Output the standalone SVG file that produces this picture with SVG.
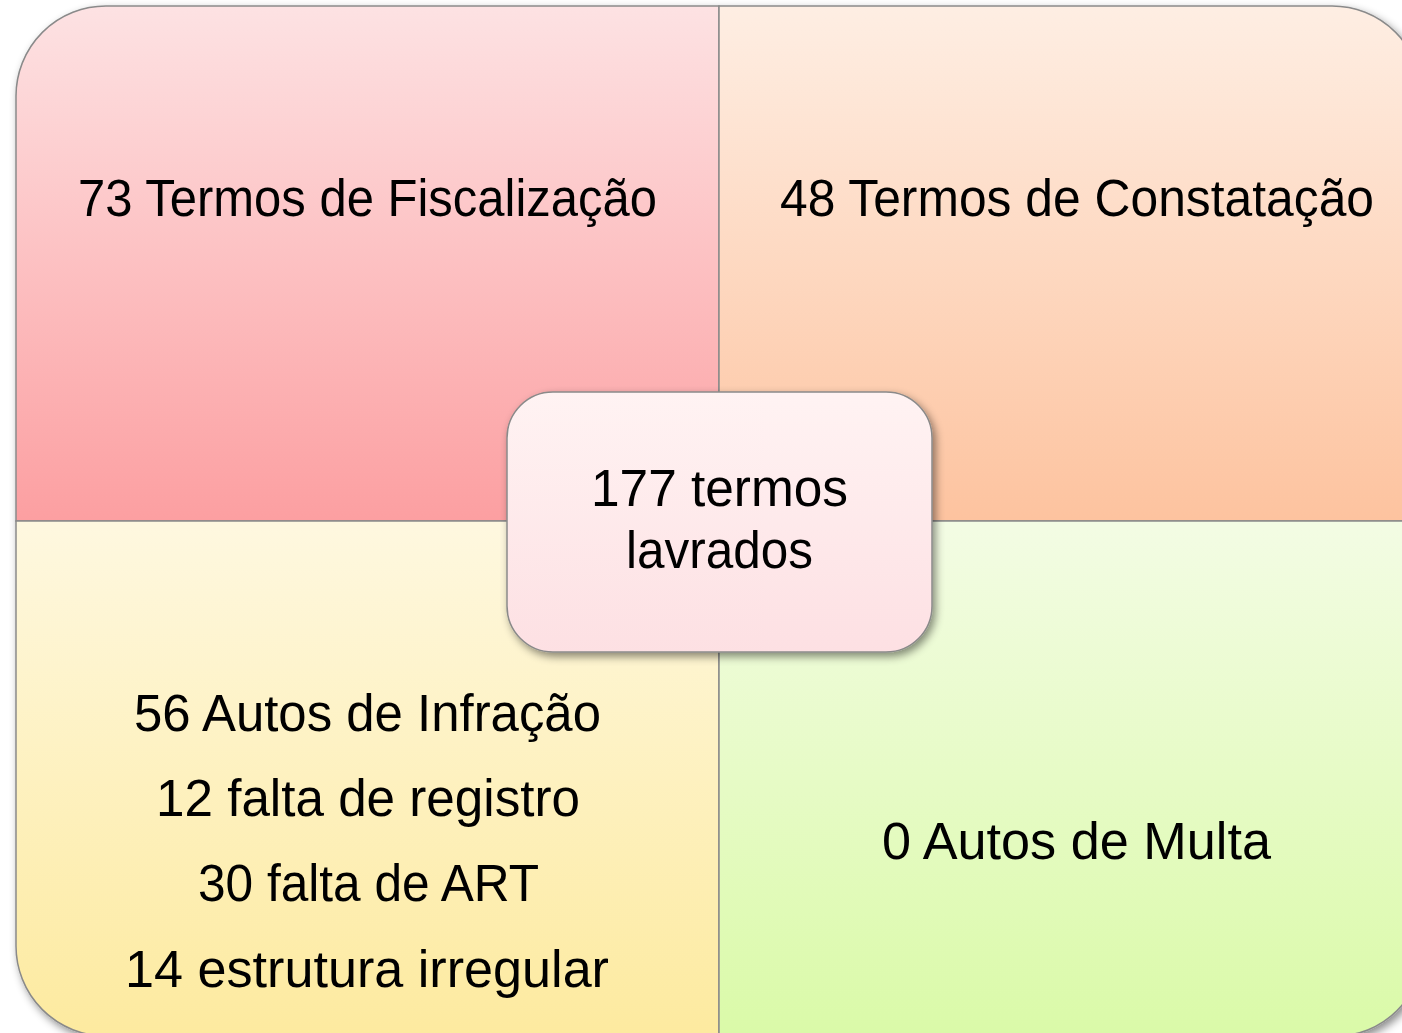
<svg xmlns="http://www.w3.org/2000/svg" width="1402" height="1033" viewBox="0 0 1402 1033">
<defs>
<linearGradient id="gTL" x1="0" y1="0" x2="0" y2="1"><stop offset="0" stop-color="#fde2e3"/><stop offset="1" stop-color="#fc9fa1"/></linearGradient>
<linearGradient id="gTR" x1="0" y1="0" x2="0" y2="1"><stop offset="0" stop-color="#feeee3"/><stop offset="1" stop-color="#fdc39f"/></linearGradient>
<linearGradient id="gBL" x1="0" y1="0" x2="0" y2="1"><stop offset="0" stop-color="#fef8e0"/><stop offset="1" stop-color="#fdea9f"/></linearGradient>
<linearGradient id="gBR" x1="0" y1="0" x2="0" y2="1"><stop offset="0" stop-color="#f3fce4"/><stop offset="1" stop-color="#dafaa8"/></linearGradient>
<linearGradient id="gC" x1="0" y1="0" x2="0" y2="1"><stop offset="0" stop-color="#fff3f3"/><stop offset="1" stop-color="#fde0e3"/></linearGradient>
<filter id="sh" x="-10%" y="-10%" width="125%" height="125%"><feDropShadow dx="3" dy="4" stdDeviation="4" flood-color="#000" flood-opacity="0.45"/></filter>
</defs>
<style>
.q{stroke:#8a8a8a;stroke-width:1.5}
.t{font-family:"Liberation Sans",Arial,sans-serif;font-size:51px;fill:#000;text-anchor:middle}
</style>
<rect width="1402" height="1033" fill="#fff"/>
<g id="quadrants" filter="url(#sh)">
<g id="q-fiscalizacao">
<path class="q" fill="url(#gTL)" d="M16,96 A90,90 0 0 1 106,6 H719 V521 H16 Z"/>
<text class="t" x="367.5" y="216" textLength="579" lengthAdjust="spacingAndGlyphs">73 Termos de Fiscalização</text>
</g>
<g id="q-constatacao">
<path class="q" fill="url(#gTR)" d="M719,6 H1332 A90,90 0 0 1 1422,96 V521 H719 Z"/>
<text class="t" x="1077" y="216" textLength="594" lengthAdjust="spacingAndGlyphs">48 Termos de Constatação</text>
</g>
<g id="q-infracao">
<path class="q" fill="url(#gBL)" d="M16,521 H719 V1036 H106 A90,90 0 0 1 16,946 Z"/>
<text class="t" x="367.5" y="731" textLength="467" lengthAdjust="spacingAndGlyphs">56 Autos de Infração</text>
<text class="t" x="368" y="816" textLength="424" lengthAdjust="spacingAndGlyphs">12 falta de registro</text>
<text class="t" x="368.5" y="901" textLength="341" lengthAdjust="spacingAndGlyphs">30 falta de ART</text>
<text class="t" x="367" y="987" textLength="484" lengthAdjust="spacingAndGlyphs">14 estrutura irregular</text>
</g>
<g id="q-multa">
<path class="q" fill="url(#gBR)" d="M719,521 H1422 V950 A86,86 0 0 1 1336,1036 H719 Z"/>
<text class="t" x="1076.5" y="859" textLength="389" lengthAdjust="spacingAndGlyphs">0 Autos de Multa</text>
</g>
</g>
<g id="center">
<rect x="507" y="392" width="425" height="260" rx="46" fill="url(#gC)" stroke="#8a8a8a" stroke-width="1.5" filter="url(#sh)"/>
<text class="t" x="719.5" y="506" textLength="257" lengthAdjust="spacingAndGlyphs">177 termos</text>
<text class="t" x="719.5" y="568" textLength="187" lengthAdjust="spacingAndGlyphs">lavrados</text>
</g>
</svg>
